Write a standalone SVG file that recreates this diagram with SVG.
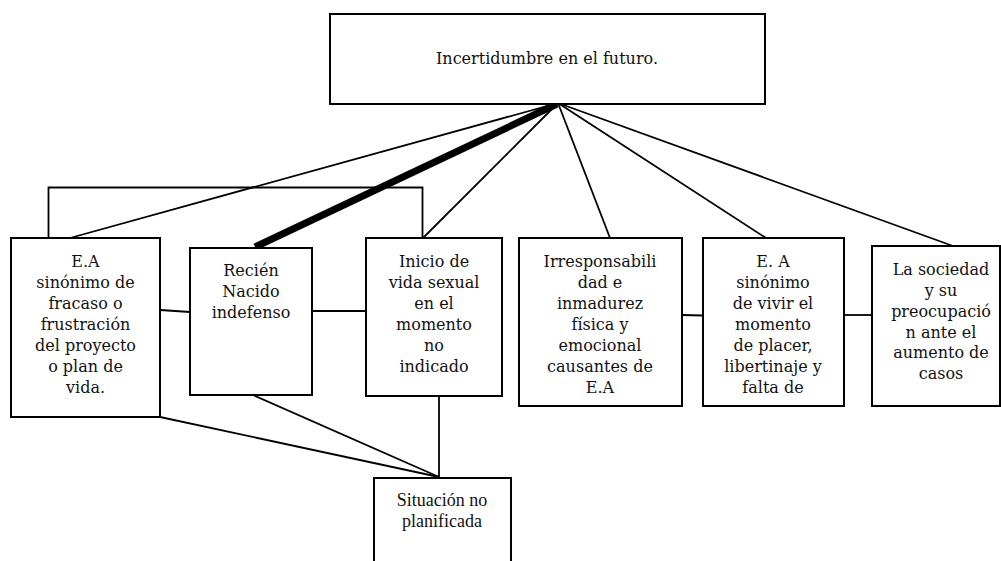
<svg xmlns="http://www.w3.org/2000/svg" width="1001" height="561" viewBox="0 0 1001 561">
<style>
.box{fill:#fff;stroke:#000;stroke-width:2}
.ln{fill:none;stroke:#000;stroke-width:1.8}
.thick{fill:none;stroke:#000;stroke-width:7}
.t{font-family:"DejaVu Serif","Liberation Serif",serif;font-size:16px;fill:#111;text-anchor:middle}
.tt{font-family:"Liberation Serif","Times New Roman",serif;font-size:18px;fill:#111;text-anchor:middle}
</style>
<rect width="1001" height="561" fill="#fff"/>
<g id="connectors">
<line class="ln" x1="558" y1="103" x2="70" y2="238"/>
<line class="ln" x1="558" y1="103" x2="423" y2="238"/>
<line class="ln" x1="558" y1="103" x2="610" y2="238"/>
<line class="ln" x1="558" y1="103" x2="766" y2="238"/>
<line class="ln" x1="558" y1="103" x2="953" y2="246"/>
<line class="thick" x1="557" y1="104" x2="255" y2="247"/>
<polyline class="ln" points="48.5,238 48.5,187.5 422.5,187.5 422.5,238"/>
<line class="ln" x1="160" y1="310" x2="190" y2="312"/>
<line class="ln" x1="312" y1="311" x2="366" y2="311"/>
<line class="ln" x1="682" y1="315" x2="703" y2="315.5"/>
<line class="ln" x1="844" y1="315" x2="872" y2="315"/>
<line class="ln" x1="160" y1="417" x2="439" y2="477"/>
<line class="ln" x1="253" y1="395" x2="439" y2="477"/>
<line class="ln" x1="439" y1="396" x2="439" y2="478"/>
</g>
<g id="n-top">
<rect class="box" x="330" y="14" width="435" height="90"/>
<text class="t" x="547" y="64">Incertidumbre en el futuro.</text>
</g>
<g id="n-ea">
<rect class="box" x="11" y="238" width="149" height="179"/>
<text class="t"><tspan x="85.5" y="267">E.A</tspan><tspan x="85.5" y="288">sinónimo de</tspan><tspan x="85.5" y="309">fracaso o</tspan><tspan x="85.5" y="330">frustración</tspan><tspan x="85.5" y="351">del proyecto</tspan><tspan x="85.5" y="372">o plan de</tspan><tspan x="85.5" y="393">vida.</tspan></text>
</g>
<g id="n-recien">
<rect class="box" x="190" y="248" width="122" height="147"/>
<text class="t"><tspan x="251" y="276">Recién</tspan><tspan x="251" y="297">Nacido</tspan><tspan x="251" y="318">indefenso</tspan></text>
</g>
<g id="n-inicio">
<rect class="box" x="366" y="238" width="136" height="158"/>
<text class="t"><tspan x="434" y="267">Inicio de</tspan><tspan x="434" y="288">vida sexual</tspan><tspan x="434" y="309">en el</tspan><tspan x="434" y="330">momento</tspan><tspan x="434" y="351">no</tspan><tspan x="434" y="372">indicado</tspan></text>
</g>
<g id="n-irresp">
<rect class="box" x="519" y="238" width="163" height="168"/>
<text class="t"><tspan x="600" y="267">Irresponsabili</tspan><tspan x="600" y="288">dad e</tspan><tspan x="600" y="309">inmadurez</tspan><tspan x="600" y="330">física y</tspan><tspan x="600" y="351">emocional</tspan><tspan x="600" y="372">causantes de</tspan><tspan x="600" y="393">E.A</tspan></text>
</g>
<g id="n-vivir">
<rect class="box" x="703" y="238" width="141" height="168"/>
<text class="t"><tspan x="773" y="267">E. A</tspan><tspan x="773" y="288">sinónimo</tspan><tspan x="773" y="309">de vivir el</tspan><tspan x="773" y="330">momento</tspan><tspan x="773" y="351">de placer,</tspan><tspan x="773" y="372">libertinaje y</tspan><tspan x="773" y="393">falta de</tspan></text>
</g>
<g id="n-sociedad">
<rect class="box" x="872" y="246" width="128" height="160"/>
<text class="t"><tspan x="941" y="275">La sociedad</tspan><tspan x="941" y="296">y su</tspan><tspan x="941" y="317">preocupació</tspan><tspan x="941" y="338">n ante el</tspan><tspan x="941" y="358">aumento de</tspan><tspan x="941" y="379">casos</tspan></text>
</g>
<g id="n-situacion">
<rect class="box" x="374" y="478" width="137" height="100"/>
<text class="tt"><tspan x="442" y="506">Situación no</tspan><tspan x="442" y="527">planificada</tspan></text>
</g>
</svg>
